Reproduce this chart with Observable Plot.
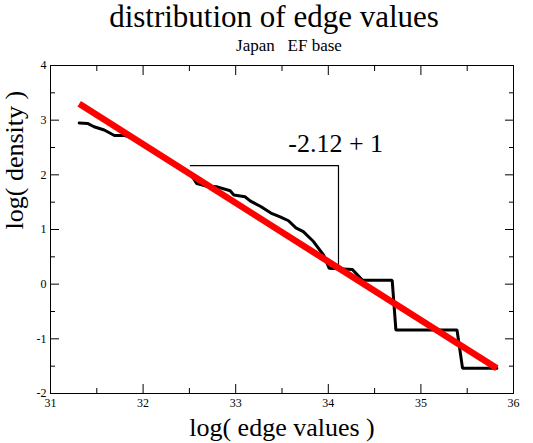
<!DOCTYPE html>
<html>
<head>
<meta charset="utf-8">
<script src="https://cdn.jsdelivr.net/npm/d3@7"></script>
<script src="https://cdn.jsdelivr.net/npm/@observablehq/plot@0.6"></script>
<style>
  html, body { margin: 0; padding: 0; background: #fff; }
  body { width: 533px; height: 443px; overflow: hidden; font-family: "Times New Roman", "Liberation Serif", "DejaVu Serif", serif; }
  #head { height: 56px; text-align: center; position: relative; }
  #title { position: absolute; left: 0; width: 548px; top: 2px; font-size: 31px; line-height: 30px; color: #000; white-space: nowrap; }
  #sub { position: absolute; left: 0; width: 578px; top: 38px; font-size: 17px; line-height: 16px; color: #000; white-space: nowrap; }
  svg text { font-family: "Times New Roman", "Liberation Serif", "DejaVu Serif", serif; }
</style>
</head>
<body>
<div id="head"><div id="title">distribution of edge values</div><div id="sub">Japan&nbsp;&nbsp; EF base</div></div>
<div id="chart"></div>
<script>
// Empirical distribution (step curve)
const stepX = [31.31, 31.40, 31.47, 31.58, 31.69, 31.80, 31.95, 32.10, 32.30, 32.51, 32.58, 32.69, 32.80, 32.94, 32.98, 33.10, 33.16, 33.27, 33.38, 33.48, 33.57, 33.65, 33.73, 33.84, 33.95, 34.01, 34.26, 34.37, 34.69, 34.73, 35.39, 35.45, 35.82];
const stepY = [2.95, 2.94, 2.88, 2.82, 2.72, 2.72, 2.62, 2.45, 2.23, 2.02, 1.84, 1.79, 1.78, 1.71, 1.63, 1.60, 1.52, 1.42, 1.30, 1.23, 1.16, 1.03, 0.96, 0.78, 0.53, 0.29, 0.27, 0.07, 0.07, -0.84, -0.84, -1.54, -1.54];
// Fitted line
const fitX = [31.31, 35.82];
const fitY = [3.30, -1.54];
// Slope annotation bracket
const bracketX = [32.51, 34.11, 34.11];
const bracketY = [2.17, 2.17, 0.28];
const annoText = "-2.12 + 1";
const annoX = 34.08, annoY = 2.57;
// Ticks
const xMajor = [31, 32, 33, 34, 35, 36];
const xMinor = [31.5, 32.5, 33.5, 34.5, 35.5];
const yMajor = [-2, -1, 0, 1, 2, 3, 4];
const yMinor = [-1.5, -0.5, 0.5, 1.5, 2.5, 3.5];

const step = stepX.map((x, i) => ({x, y: stepY[i]}));
const fit = fitX.map((x, i) => ({x, y: fitY[i]}));
const bracket = bracketX.map((x, i) => ({x, y: bracketY[i]}));

const font = "Times New Roman, Liberation Serif, serif";
const blank = () => "";
const chart = Plot.plot({
  width: 533,
  height: 387,
  marginLeft: 50,
  marginRight: 20,
  marginTop: 9,
  marginBottom: 50,
  style: {fontFamily: font, background: "#fff", color: "#000"},
  x: {domain: [31, 36], label: null},
  y: {domain: [-2, 4], label: null},
  marks: [
    Plot.frame({stroke: "#000", strokeWidth: 1}),
    Plot.axisX({anchor: "bottom", ticks: xMajor, tickSize: -9, tickPadding: 14, fontSize: 12, tickFormat: d => d, label: null}),
    Plot.axisX({anchor: "bottom", ticks: xMinor, tickSize: -5, tickFormat: blank, label: null}),
    Plot.axisX({anchor: "top", ticks: xMajor, tickSize: -9, tickFormat: blank, label: null}),
    Plot.axisX({anchor: "top", ticks: xMinor, tickSize: -5, tickFormat: blank, label: null}),
    Plot.axisY({anchor: "left", ticks: yMajor, tickSize: -9, tickPadding: 13, fontSize: 12, tickFormat: d => d, label: null}),
    Plot.axisY({anchor: "left", ticks: yMinor, tickSize: -5, tickFormat: blank, label: null}),
    Plot.axisY({anchor: "right", ticks: yMajor, tickSize: -9, tickFormat: blank, label: null}),
    Plot.axisY({anchor: "right", ticks: yMinor, tickSize: -5, tickFormat: blank, label: null}),
    Plot.line(bracket, {x: "x", y: "y", stroke: "#000", strokeWidth: 1.2}),
    Plot.text([annoText], {x: () => annoX, y: () => annoY, text: d => d, fontSize: 26, fill: "#000"}),
    Plot.line(step, {x: "x", y: "y", stroke: "#000", strokeWidth: 3, strokeLinejoin: "miter"}),
    Plot.line(fit, {x: "x", y: "y", stroke: "#ff0000", strokeWidth: 6.5, strokeLinecap: "butt"}),
    Plot.text(["log( edge values )"], {frameAnchor: "bottom", dy: 42, text: d => d, fontSize: 26, fill: "#000"}),
    Plot.text(["log( density )"], {frameAnchor: "left", dx: -36, rotate: -90, text: d => d, fontSize: 26, fill: "#000"})
  ]
});
document.getElementById("chart").appendChild(chart);
</script>
</body>
</html>
